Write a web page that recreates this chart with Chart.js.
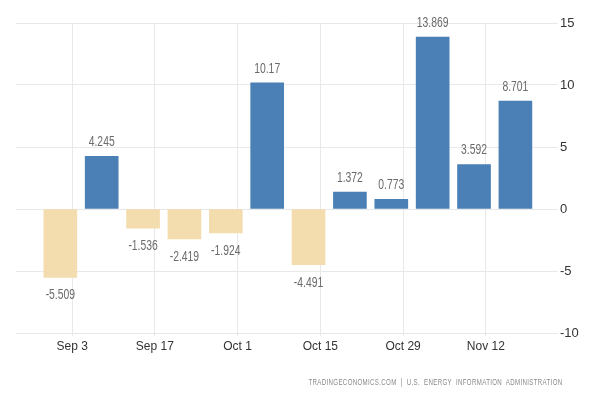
<!DOCTYPE html>
<html>
<head>
<meta charset="utf-8">
<script src="https://cdn.jsdelivr.net/npm/chart.js@4"></script>
<style>
  body { margin: 0; background: #fff; }
  #wrap { position: relative; width: 600px; height: 400px; }
  #source {
    position: absolute; right: 37px; top: 377px;
    font: 9px "Liberation Sans", sans-serif;
    color: #8a8a8a; letter-spacing: 0.5px; white-space: nowrap;
    transform: scaleX(0.68); transform-origin: right center;
  }
</style>
</head>
<body>
<div id="wrap">
  <canvas id="myChart" width="600" height="400"></canvas>
  <div id="source">TRADINGECONOMICS.COM&nbsp; | &nbsp;U.S.&nbsp; ENERGY&nbsp; INFORMATION&nbsp; ADMINISTRATION</div>
</div>
<script>
const weekDates = ['2017-09-01', '2017-09-08', '2017-09-15', '2017-09-22', '2017-09-29', '2017-10-06',
                   '2017-10-13', '2017-10-20', '2017-10-27', '2017-11-03', '2017-11-10', '2017-11-17'];
const changes = [-5.509, 4.245, -1.536, -2.419, -1.924, 10.17, -4.491, 1.372, 0.773, 13.869, 3.592, 8.701];
const tickDates = ['2017-09-03', '2017-09-17', '2017-10-01', '2017-10-15', '2017-10-29', '2017-11-12'];
const tickLabels = ['Sep 3', 'Sep 17', 'Oct 1', 'Oct 15', 'Oct 29', 'Nov 12'];
const yTicks = [15, 10, 5, 0, -5, -10];

const base = Date.parse('2017-09-03');
const dayOf = d => (Date.parse(d) - base) / 86400000;
const tickDays = tickDates.map(dayOf);

// value labels above / below the bars, drawn a bit condensed
const barLabels = {
  id: 'barLabels',
  afterDatasetsDraw(chart) {
    const ctx = chart.ctx;
    const meta = chart.getDatasetMeta(0);
    const sx = 0.74;
    ctx.save();
    ctx.font = '14px "Liberation Sans", sans-serif';
    ctx.fillStyle = '#6a6a6a';
    ctx.textAlign = 'center';
    ctx.textBaseline = 'middle';
    ctx.scale(sx, 1);
    meta.data.forEach((bar, i) => {
      const v = changes[i];
      const y = v >= 0 ? bar.y - 14 : bar.y + 18;
      ctx.fillText(String(v), bar.x / sx, y);
    });
    ctx.restore();
  }
};

Chart.defaults.font.family = '"Liberation Sans", sans-serif';

const data = {
  datasets: [{
    data: weekDates.map((d, i) => ({ x: dayOf(d), y: changes[i] })),
    backgroundColor: changes.map(v => v >= 0 ? '#4a80b5' : '#f3dcae'),
    barThickness: 33,
    borderWidth: 0
  }]
};

const config = {
  type: 'bar',
  data,
  plugins: [barLabels],
  options: {
    responsive: false,
    animation: false,
    layout: { padding: { left: 16, top: 23, right: 0, bottom: 0 } },
    plugins: { legend: { display: false }, tooltip: { enabled: false } },
    scales: {
      x: {
        type: 'linear',
        offset: false,
        min: -9.5,
        max: 81.7,
        afterBuildTicks: s => { s.ticks = tickDays.map(v => ({ value: v })); },
        afterFit: s => { s.height = 67; },
        ticks: {
          callback: v => tickLabels[tickDays.indexOf(v)],
          color: '#333',
          font: { size: 12 },
          padding: 3,
          maxRotation: 0,
          autoSkip: false
        },
        grid: { color: '#e8e8e8', tickLength: 3, offset: false },
        border: { display: false }
      },
      y: {
        position: 'right',
        min: -10,
        max: 15,
        afterBuildTicks: s => { s.ticks = yTicks.map(v => ({ value: v })); },
        afterFit: s => { s.width = 45; },
        ticks: { color: '#333', font: { size: 13 }, padding: 2 },
        grid: { color: '#e8e8e8', tickLength: 3 },
        border: { display: false }
      }
    }
  }
};

const myChart = new Chart(document.getElementById('myChart'), config);
</script>
</body>
</html>
